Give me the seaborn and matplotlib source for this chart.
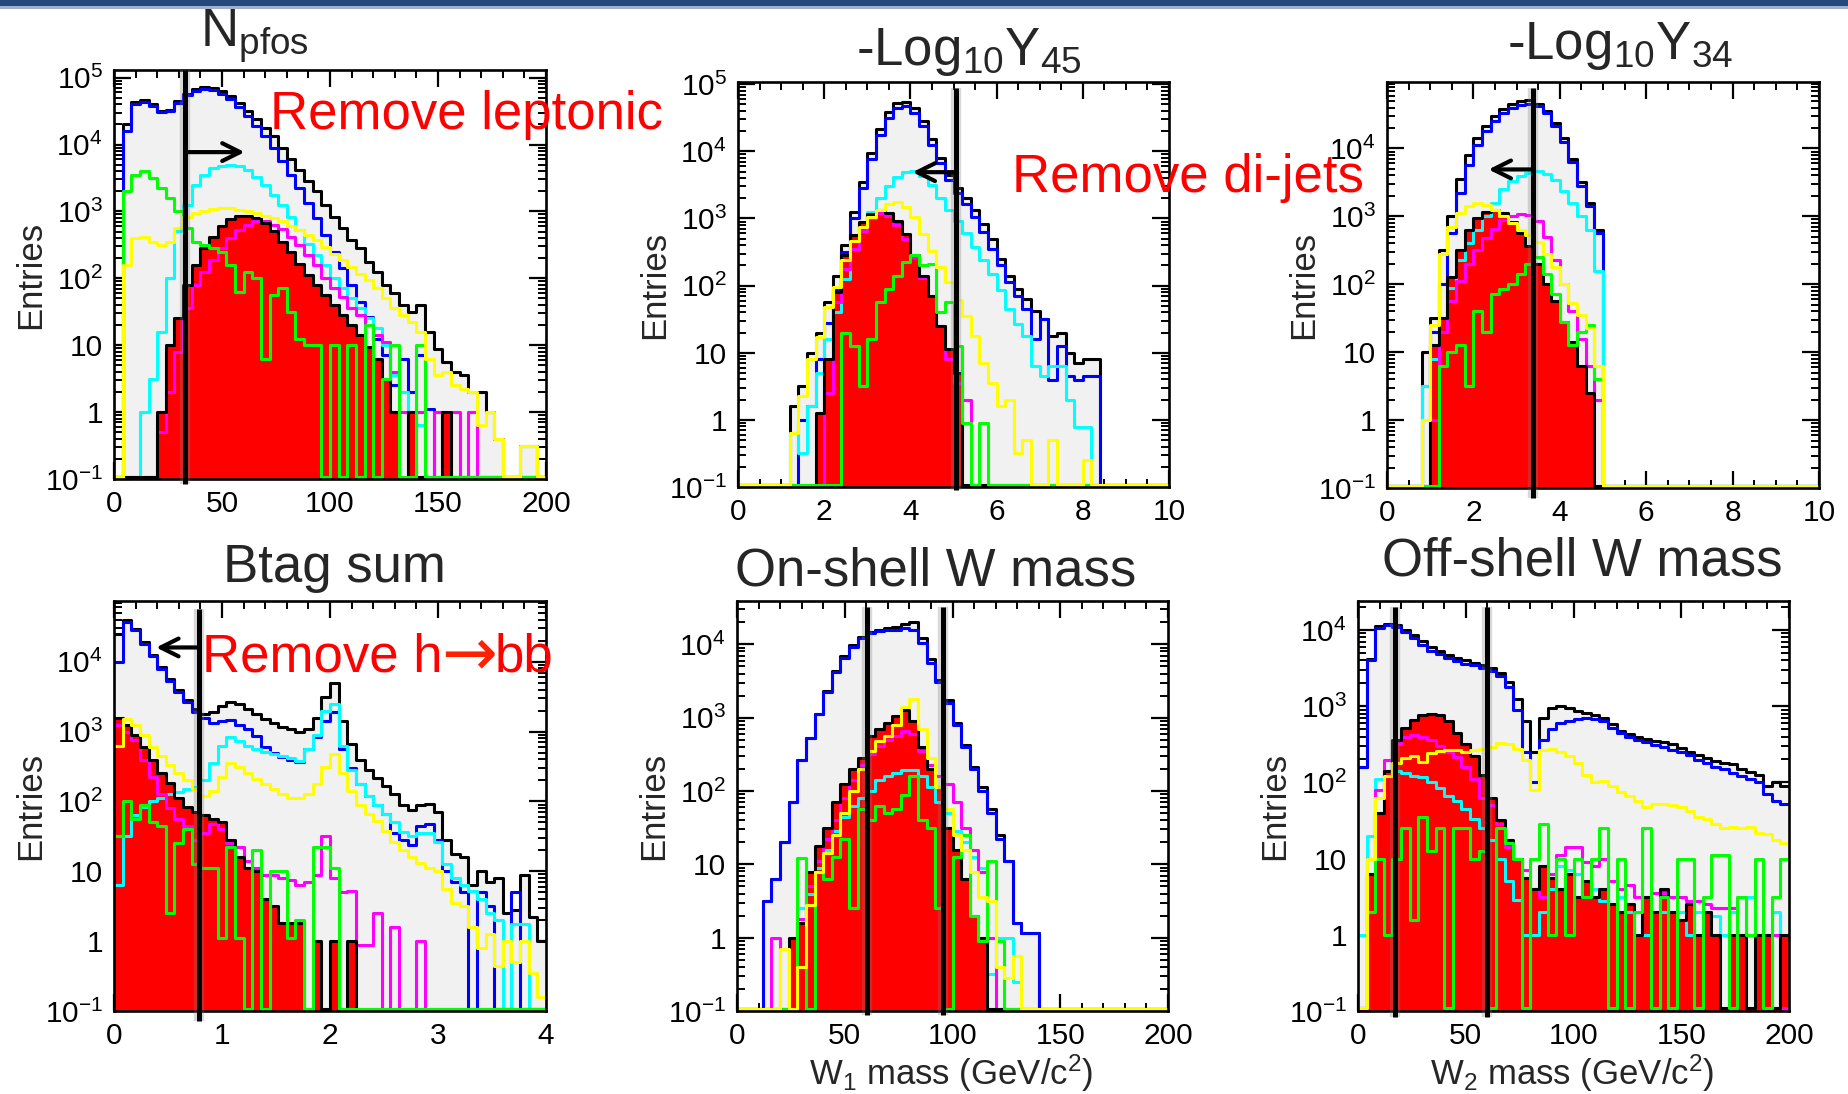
import numpy as np
import pandas as pd
import matplotlib
matplotlib.use("Agg")
import matplotlib.pyplot as plt
from matplotlib.ticker import LogLocator, MultipleLocator, FuncFormatter, NullFormatter
from matplotlib.patches import Rectangle
import seaborn as sns

# ---------------------------------------------------------------------------
# Histogram contents, stored as log10(entries) per bin; -1 marks an empty bin.
# Colours: black = sum of backgrounds, blue/cyan/yellow/magenta/green = single
# backgrounds, red (filled) = signal.
# ---------------------------------------------------------------------------

# N_pfos : 50 bins on [0, 200]
npfos_black = [-1, 4.3, 4.63, 4.66, 4.6, 4.5, 4.52, 4.65, 4.76, 4.83,
               4.86, 4.84, 4.8, 4.72, 4.62, 4.5, 4.38, 4.25, 4.12, 3.95,
               3.78, 3.62, 3.45, 3.3, 3.1, 2.92, 2.75, 2.58, 2.45, 2.25,
               2.1, 1.9, 1.78, 1.6, 1.5, 1.6, 1.2, 0.95, 0.75, 0.6,
               0.55, 0.3, 0.3, 0.0, -0.4, -1, -1, -0.5, -0.5, -1]
npfos_blue = [-1, 4.2, 4.6, 4.64, 4.58, 4.48, 4.5, 4.62, 4.74, 4.8,
              4.83, 4.81, 4.76, 4.68, 4.56, 4.42, 4.28, 4.12, 3.95, 3.75,
              3.55, 3.35, 3.12, 2.9, 2.65, 2.4, 2.15, 1.9, 1.65, 1.42,
              1.1, 0.85, 0.4, 0.8, 0.3, 0.85, 0.05, -1, -1, -1,
              -1, -1, -1, -1, -1, -1, -1, -1, -1, -1]
npfos_cyan = [-1, -1, -1, 0.0, 0.5, 1.2, 2.0, 2.7, 3.1, 3.4,
              3.55, 3.65, 3.68, 3.7, 3.68, 3.62, 3.52, 3.4, 3.25, 3.1,
              2.92, 2.72, 2.52, 2.35, 2.2, 2.0, 1.85, 1.7, 1.55, 1.4,
              1.25, 1.0, 0.55, 0.3, 0.0, -0.2, -1, -1, -1, -1,
              -1, -1, -1, -1, -1, -1, -1, -1, -1, -1]
npfos_yellow = [-1, 2.2, 2.6, 2.62, 2.55, 2.5, 2.55, 2.75, 2.92, 2.97,
                3.0, 3.03, 3.05, 3.05, 3.02, 3.0, 2.97, 2.93, 2.9, 2.85,
                2.78, 2.72, 2.65, 2.57, 2.47, 2.37, 2.27, 2.17, 2.07, 1.97,
                1.85, 1.7, 1.55, 1.45, 1.35, 1.2, 0.8, 0.55, 0.6, 0.4,
                0.35, 0.3, -0.2, 0.0, -0.4, -1, -1, -0.5, -0.5, -1]
npfos_magenta = [-1, -1, -1, -1, -1, -0.3, 0.3, 0.9, 1.55, 1.9,
                 2.1, 2.28, 2.45, 2.6, 2.72, 2.8, 2.85, 2.85, 2.8, 2.73,
                 2.62, 2.5, 2.35, 2.2, 2.0, 1.85, 1.72, 1.55, 1.45, 1.3,
                 1.15, 1.05, 0.6, 0.0, -1, 0.0, -1, 0.0, -1, 0.0,
                 -1, 0.0, -1, -1, -1, -1, -1, -1, -1, -1]
npfos_green = [-1, 3.3, 3.55, 3.6, 3.5, 3.35, 3.2, 3.0, 2.75, 2.55,
               2.5, 2.45, 2.4, 2.2, 1.8, 2.1, 2.0, 0.8, 1.75, 1.85,
               1.5, 1.1, 1.0, 1.0, -1, 1.0, -1, 1.0, -1, 1.3,
               -1, 0.5, 1.0, -1, -1, 1.0, -1, -1, -1, -1,
               -1, -1, -1, -1, -1, -1, -1, -1, -1, -1]
npfos_signal = [-1, -1, -1, -1, -1, 0.0, 1.0, 1.4, 1.9, 2.2,
                2.45, 2.62, 2.78, 2.88, 2.93, 2.93, 2.9, 2.82, 2.7, 2.55,
                2.4, 2.22, 2.05, 1.9, 1.75, 1.6, 1.45, 1.3, 1.15, 0.98,
                0.8, 0.5, 0.0, -1, 0.0, -1, -1, -1, 0.0, -1,
                -1, -1, -1, -1, -1, -1, -1, -1, -1, -1]

# -log10(y45) : 50 bins on [0, 10]
y45_black = [-1, -1, -1, -1, -1, -1, 0.2, 0.5, 1.0, 1.3,
             1.75, 2.15, 2.6, 3.1, 3.55, 3.98, 4.33, 4.58, 4.72, 4.74,
             4.64, 4.45, 4.18, 3.9, 3.65, 3.45, 3.3, 3.12, 2.92, 2.7,
             2.4, 2.15, 1.95, 1.8, 1.62, 1.5, 1.25, 1.3, 1.0, 0.85,
             0.9, 0.9, -1, -1, -1, -1, -1, -1, -1, -1]
y45_blue = [-1, -1, -1, -1, -1, -1, -1, 0.0, 0.2, 0.9,
            1.45, 1.95, 2.5, 3.0, 3.45, 3.88, 4.25, 4.5, 4.64, 4.67,
            4.57, 4.38, 4.1, 3.82, 3.58, 3.38, 3.22, 3.02, 2.8, 2.55,
            2.3, 2.05, 1.85, 1.65, 1.2, 1.5, 0.6, 1.1, 0.65, 0.6,
            0.65, 0.65, -1, -1, -1, -1, -1, -1, -1, -1]
y45_cyan = [-1, -1, -1, -1, -1, -1, -0.2, -0.5, 0.2, 0.7,
            1.2, 1.6, 2.1, 2.55, 2.95, 3.1, 3.3, 3.48, 3.62, 3.7,
            3.71, 3.64, 3.5, 3.3, 3.12, 2.97, 2.78, 2.57, 2.38, 2.18,
            1.93, 1.65, 1.43, 1.25, 0.8, 0.65, 0.8, 0.8, 0.3, -0.1,
            -0.1, -1, -1, -1, -1, -1, -1, -1, -1, -1]
y45_yellow = [-1, -1, -1, -1, -1, -1, -0.2, 0.35, 0.9, 1.24,
              1.68, 1.98, 2.38, 2.67, 2.87, 3.02, 3.12, 3.21, 3.24, 3.17,
              3.02, 2.77, 2.52, 2.28, 2.05, 1.78, 1.55, 1.25, 0.85, 0.55,
              0.2, 0.3, -0.5, -0.3, -1, -1, -0.3, -1, -1, -1,
              -0.6, -1, -1, -1, -1, -1, -1, -1, -1, -1]
y45_magenta = [-1, -1, -1, -1, -1, -1, -1, -1, -1, -1,
               0.4, 1.75, 2.25, 2.55, 2.82, 3.0, 3.08, 3.04, 2.9, 2.7,
               2.42, 2.12, 1.85, 1.4, 0.9, 0.55, 0.3, -1, -1, -1,
               -1, -1, -1, -1, -1, -1, -1, -1, -1, -1,
               -1, -1, -1, -1, -1, -1, -1, -1, -1, -1]
y45_green = [-1, -1, -1, -1, -1, -1, -1, -1, -1, -1,
             -1, -1, 1.3, 1.1, 0.5, 1.2, 1.75, 1.95, 2.15, 2.35,
             2.45, 2.3, 2.32, 1.6, 1.75, 1.1, -0.05, -1, -0.05, -1,
             -1, -1, -1, -1, -1, -1, -1, -1, -1, -1,
             -1, -1, -1, -1, -1, -1, -1, -1, -1, -1]
y45_signal = [-1, -1, -1, -1, -1, -1, -1, -1, -1, 0.1,
              0.9, 1.9, 2.45, 2.75, 2.95, 3.07, 3.12, 3.08, 2.97, 2.77,
              2.45, 2.15, 1.85, 1.4, 1.05, 0.7, -1, -1, -1, -1,
              -1, -1, -1, -1, -1, -1, -1, -1, -1, -1,
              -1, -1, -1, -1, -1, -1, -1, -1, -1, -1]

# -log10(y34) : 50 bins on [0, 10]
y34_black = [-1, -1, -1, -1, 1.0, 1.5, 2.5, 3.0, 3.55, 3.9,
             4.15, 4.33, 4.48, 4.58, 4.65, 4.7, 4.71, 4.66, 4.55, 4.38,
             4.15, 3.85, 3.5, 3.2, 2.8, -1, -1, -1, -1, -1,
             -1, -1, -1, -1, -1, -1, -1, -1, -1, -1,
             -1, -1, -1, -1, -1, -1, -1, -1, -1, -1]
y34_blue = [-1, -1, -1, -1, 0.5, 1.3, 2.0, 2.75, 3.35, 3.75,
            4.05, 4.25, 4.4, 4.52, 4.6, 4.64, 4.66, 4.62, 4.52, 4.33,
            4.1, 3.8, 3.45, 3.15, 2.75, -1, -1, -1, -1, -1,
            -1, -1, -1, -1, -1, -1, -1, -1, -1, -1,
            -1, -1, -1, -1, -1, -1, -1, -1, -1, -1]
y34_cyan = [-1, -1, -1, -1, 0.5, 0.9, 1.5, 1.95, 2.35, 2.6,
            2.8, 3.0, 3.2, 3.4, 3.52, 3.6, 3.64, 3.66, 3.63, 3.53,
            3.38, 3.2, 3.0, 2.8, 2.2, -1, -1, -1, -1, -1,
            -1, -1, -1, -1, -1, -1, -1, -1, -1, -1,
            -1, -1, -1, -1, -1, -1, -1, -1, -1, -1]
y34_yellow = [-1, -1, -1, -1, 0.0, 1.4, 2.45, 2.85, 3.05, 3.15,
              3.2, 3.17, 3.1, 3.0, 2.9, 2.8, 2.72, 2.62, 2.45, 2.25,
              2.0, 1.72, 1.55, 1.35, 0.8, -1, -1, -1, -1, -1,
              -1, -1, -1, -1, -1, -1, -1, -1, -1, -1,
              -1, -1, -1, -1, -1, -1, -1, -1, -1, -1]
y34_magenta = [-1, -1, -1, -1, -1, 0.0, 1.3, 1.75, 2.05, 2.3,
               2.5, 2.68, 2.82, 2.95, 3.0, 3.03, 3.02, 2.93, 2.7, 2.35,
               2.0, 1.6, 1.2, 0.8, 0.3, -1, -1, -1, -1, -1,
               -1, -1, -1, -1, -1, -1, -1, -1, -1, -1,
               -1, -1, -1, -1, -1, -1, -1, -1, -1, -1]
y34_green = [-1, -1, -1, -1, -1, -1, 0.8, 1.0, 1.1, 0.5,
             1.6, 1.3, 1.85, 1.93, 2.0, 2.15, 2.3, 2.4, 2.15, 1.85,
             1.45, 1.1, 1.3, 1.4, 0.6, -1, -1, -1, -1, -1,
             -1, -1, -1, -1, -1, -1, -1, -1, -1, -1,
             -1, -1, -1, -1, -1, -1, -1, -1, -1, -1]
y34_signal = [-1, -1, -1, -1, -1, 1.1, 1.5, 2.1, 2.5, 2.8,
              2.98, 3.07, 3.1, 3.05, 2.92, 2.76, 2.56, 2.3, 2.0, 1.75,
              1.45, 1.15, 0.8, 0.4, -1, -1, -1, -1, -1, -1,
              -1, -1, -1, -1, -1, -1, -1, -1, -1, -1,
              -1, -1, -1, -1, -1, -1, -1, -1, -1, -1]

# B-tag sum : 50 bins on [0, 4]
btag_black = [4.4, 4.6, 4.47, 4.28, 4.1, 3.93, 3.75, 3.6, 3.45, 3.32,
              3.25, 3.28, 3.36, 3.42, 3.4, 3.33, 3.25, 3.18, 3.12, 3.07,
              3.03, 3.0, 3.03, 3.2, 3.5, 3.7, 3.15, 2.82, 2.6, 2.45,
              2.33, 2.22, 2.1, 1.95, 1.88, 1.95, 1.97, 1.85, 1.45, 1.25,
              1.2, 0.8, 1.0, 0.85, 0.9, 0.4, 0.45, 0.95, 0.35, 0.0]
btag_blue = [4.0, 4.57, 4.45, 4.26, 4.08, 3.9, 3.72, 3.57, 3.42, 3.28,
             3.2, 3.12, 3.15, 3.16, 3.1, 3.03, 2.93, 2.78, 2.7, 2.64,
             2.6, 2.57, 2.75, 2.92, 3.15, 3.28, 2.75, 2.48, 2.25, 2.08,
             1.95, 1.82, 1.55, 1.45, 1.38, 1.65, 1.68, 1.45, 1.0, 0.85,
             0.7, -1, 0.7, 0.5, -1, -1, 0.7, -1, -1, -1]
btag_cyan = [0.8, 1.5, 1.8, 1.92, 2.0, 2.05, 2.1, 2.14, 2.18, 2.2,
             2.3, 2.55, 2.8, 2.92, 2.86, 2.8, 2.75, 2.71, 2.68, 2.65,
             2.62, 2.58, 2.75, 2.95, 3.3, 3.4, 2.8, 2.45, 2.25, 2.08,
             1.95, 1.82, 1.7, 1.56, 1.5, 1.55, 1.55, 1.42, 1.1, 0.9,
             0.8, 0.72, 0.6, 0.4, 0.3, -1, 0.25, 0.25, -1, -1]
btag_yellow = [2.8, 3.18, 3.1, 2.95, 2.78, 2.65, 2.52, 2.4, 2.3, 2.18,
               2.08, 2.15, 2.35, 2.55, 2.5, 2.4, 2.32, 2.25, 2.18, 2.1,
               2.05, 2.05, 2.1, 2.25, 2.5, 2.68, 2.4, 2.15, 1.95, 1.82,
               1.72, 1.58, 1.42, 1.3, 1.2, 1.12, 1.05, 1.0, 0.75, 0.55,
               0.5, 0.2, -0.1, 0.1, -0.35, 0.0, -0.3, 0.0, -0.45, -0.8]
btag_magenta = [3.1, 3.0, 2.88, 2.6, 2.35, 2.1, 1.9, 1.75, 1.65, 1.45,
                1.55, 1.68, 1.6, 1.4, 1.35, 1.15, 1.05, 0.95, 0.95, 0.9,
                0.88, 0.8, 0.85, 0.95, 1.5, 0.9, 0.7, 0.72, -0.05, -0.05,
                0.4, -1, 0.2, -1, -1, 0.0, -1, -1, -1, -1,
                -1, -1, -1, -1, -1, -1, -1, -1, -1, -1]
btag_green = [1.5, 2.0, 1.75, 1.95, 1.7, 1.65, 0.4, 1.4, 1.6, 1.1,
              1.05, 1.05, 0.05, 1.35, 0.05, -1, 1.3, -1, 1.0, 1.0,
              0.05, 0.3, -1, 1.35, 1.35, 1.05, -1, -1, -1, -1,
              -1, -1, -1, -1, -1, -1, -1, -1, -1, -1,
              -1, -1, -1, -1, -1, -1, -1, -1, -1, -1]
btag_signal = [3.2, 3.1, 2.95, 2.78, 2.6, 2.4, 2.27, 2.05, 1.92, 1.85,
               1.8, 1.75, 1.7, 1.45, 1.2, 1.05, 1.0, 0.6, 0.5, 0.26,
               0.26, 0.26, -1, 0.0, -1, 0.0, -1, 0.0, -1, -1,
               -1, -1, -1, -1, -1, -1, -1, -1, -1, -1,
               -1, -1, -1, -1, -1, -1, -1, -1, -1, -1]

# On-shell W mass : 50 bins on [0, 200] GeV
w1_black = [-1, -1, -1, 0.5, 0.8, 1.3, 1.85, 2.42, 2.72, 3.05,
            3.36, 3.63, 3.84, 3.99, 4.1, 4.17, 4.2, 4.22, 4.24, 4.28,
            4.3, 4.08, 3.8, 3.52, 3.24, 2.93, 2.63, 2.33, 2.05, 1.75,
            1.4, 1.05, 0.2, 0.07, 0.07, -1, -1, -1, -1, -1,
            -1, -1, -1, -1, -1, -1, -1, -1, -1, -1]
w1_blue = [-1, -1, -1, 0.5, 0.8, 1.3, 1.85, 2.42, 2.72, 3.05,
           3.35, 3.62, 3.82, 3.97, 4.08, 4.15, 4.18, 4.2, 4.2, 4.22,
           4.2, 4.02, 3.75, 3.48, 3.2, 2.9, 2.6, 2.3, 2.0, 1.7,
           1.35, 1.05, 0.2, 0.07, 0.07, -1, -1, -1, -1, -1,
           -1, -1, -1, -1, -1, -1, -1, -1, -1, -1]
w1_cyan = [-1, -1, -1, -1, -1, -1, -1, 0.4, 0.6, 0.95,
           1.2, 1.45, 1.65, 1.8, 1.9, 2.0, 2.15, 2.2, 2.25, 2.28,
           2.28, 2.2, 2.05, 1.85, 1.7, 1.45, 1.3, 1.1, 0.95, -0.5,
           0.0, 0.0, -0.6, -1, -1, -1, -1, -1, -1, -1,
           -1, -1, -1, -1, -1, -1, -1, -1, -1, -1]
w1_yellow = [-1, -1, -1, -1, -1, -0.15, -1, -0.4, 0.45, 0.9,
             1.15, 1.4, 1.7, 2.0, 2.3, 2.55, 2.68, 2.75, 2.9, 3.15,
             3.25, 2.85, 2.45, 2.05, 1.75, 1.4, 1.2, 0.9, 0.55, 0.5,
             -0.4, -0.55, -0.25, -1, -1, -1, -1, -1, -1, -1,
             -1, -1, -1, -1, -1, -1, -1, -1, -1, -1]
w1_magenta = [-1, -1, -1, -1, 0.0, -1, -1, 0.25, 0.7, 1.05,
              1.35, 1.6, 1.9, 2.15, 2.35, 2.5, 2.62, 2.7, 2.75, 2.82,
              2.78, 2.55, 2.35, 2.2, 2.1, 1.85, 1.5, 1.2, 0.9, 0.0,
              -1, -1, -1, -1, -1, -1, -1, -1, -1, -1,
              -1, -1, -1, -1, -1, -1, -1, -1, -1, -1]
w1_green = [-1, -1, -1, -1, -1, -1, -1, 1.08, -1, 0.9,
            0.8, 1.1, 1.35, 0.4, 1.75, 1.6, 1.8, 1.7, 1.75, 1.95,
            2.2, 1.6, 1.5, 0.4, -1, 1.1, 1.4, 0.3, -0.05, 1.05,
            -0.05, -1, -1, -1, -1, -1, -1, -1, -1, -1,
            -1, -1, -1, -1, -1, -1, -1, -1, -1, -1]
w1_signal = [-1, -1, -1, -1, -1, -1, 0.0, 0.2, 0.9, 1.25,
             1.5, 1.85, 2.1, 2.3, 2.45, 2.75, 2.85, 2.93, 3.02, 3.1,
             2.95, 2.6, 2.3, 2.05, 1.5, 1.2, 0.8, 0.3, 0.0, -1,
             -1, -1, -1, -1, -1, -1, -1, -1, -1, -1,
             -1, -1, -1, -1, -1, -1, -1, -1, -1, -1]

# Off-shell W mass : 50 bins on [0, 200] GeV
w2_black = [2.2, 3.62, 4.05, 4.08, 4.06, 4.0, 3.93, 3.85, 3.78, 3.72,
            3.67, 3.63, 3.6, 3.57, 3.54, 3.5, 3.43, 3.32, 3.1, 2.8,
            2.4, 2.85, 2.97, 3.0, 2.97, 2.94, 2.91, 2.88, 2.84, 2.76,
            2.68, 2.64, 2.6, 2.57, 2.54, 2.53, 2.5, 2.45, 2.4, 2.36,
            2.32, 2.28, 2.25, 2.24, 2.18, 2.13, 2.1, 1.95, 2.0, 1.95]
w2_blue = [2.2, 3.6, 4.03, 4.07, 4.04, 3.97, 3.89, 3.8, 3.73, 3.68,
           3.63, 3.59, 3.56, 3.54, 3.5, 3.46, 3.4, 3.25, 2.95, 2.4,
           2.0, 2.55, 2.7, 2.78, 2.8, 2.83, 2.85, 2.83, 2.8, 2.72,
           2.65, 2.6, 2.56, 2.53, 2.49, 2.46, 2.43, 2.4, 2.36, 2.3,
           2.25, 2.2, 2.17, 2.12, 2.08, 2.05, 2.0, 1.85, 1.75, 1.72]
w2_cyan = [0.0, 1.3, 2.05, 2.15, 2.15, 2.12, 2.08, 2.07, 2.0, 1.92,
           1.82, 1.75, 1.65, 1.52, 1.4, 1.25, 1.0, 0.7, 0.46, 0.0,
           0.0, 0.3, 0.6, 0.9, 0.85, 0.8, 0.95, 0.6, 0.45, 0.7,
           0.5, 0.3, 0.3, 0.0, 0.3, 0.3, 0.3, 0.3, 0.0, 0.3,
           0.3, 0.25, 0.0, 0.3, 0.0, 0.5, 0.0, 0.0, 0.3, 0.0]
w2_yellow = [-1, 1.0, 1.8, 2.08, 2.25, 2.32, 2.35, 2.27, 2.38, 2.41,
             2.43, 2.42, 2.4, 2.42, 2.44, 2.46, 2.52, 2.5, 2.44, 2.3,
             1.9, 2.42, 2.44, 2.4, 2.35, 2.25, 2.1, 2.0, 2.02, 1.95,
             1.88, 1.82, 1.76, 1.68, 1.72, 1.72, 1.7, 1.68, 1.62, 1.55,
             1.52, 1.45, 1.4, 1.42, 1.4, 1.42, 1.33, 1.32, 1.25, 1.2]
w2_magenta = [-1, 1.0, 1.9, 2.3, 2.5, 2.6, 2.62, 2.6, 2.56, 2.48,
              2.4, 2.33, 2.2, 2.05, 1.8, 1.7, 1.45, 1.15, 1.0, 0.85,
              0.6, 0.5, 0.8, 1.05, 1.15, 1.15, 0.95, 0.9, 1.0, 0.7,
              0.6, 0.65, 0.5, 0.5, 0.55, 0.55, 0.5, 0.5, 0.45, 0.45,
              0.4, 0.35, 0.35, 0.35, 0.0, 0.0, 0.0, 0.0, 0.0, -1]
w2_green = [-1, 0.3, 1.0, 0.0, 1.0, 1.4, 0.2, 1.55, 1.1, 1.4,
            -1, 1.4, 1.4, 1.0, 1.1, -1, 1.4, 1.2, 1.0, -1,
            1.0, 1.45, 0.0, 1.0, 0.0, 1.0, 0.5, 1.0, 1.4, -1,
            1.0, -1, 0.3, 1.4, -1, 0.5, -1, 1.0, 1.0, -1,
            0.5, 1.05, 1.05, -1, 0.5, 0.0, 1.0, -1, 0.5, 1.0]
w2_signal = [-1, 0.8, 1.6, 2.15, 2.55, 2.72, 2.82, 2.88, 2.9, 2.88,
             2.8, 2.65, 2.5, 2.35, 2.1, 1.8, 1.5, 1.25, 1.0, 0.75,
             0.6, 0.9, 0.75, 0.6, 0.8, 0.5, 0.7, 0.5, 0.6, 0.4,
             0.3, 0.4, 0.0, 0.5, 0.3, 0.6, 0.3, 0.2, 0.4, 0.0,
             0.3, 0.0, -1, 0.0, 0.0, -1, 0.0, 0.0, -1, 0.0]

# ---------------------------------------------------------------------------
W, H = 1848, 1094
FLOOR = 0.108          # empty bins sit on the lower edge of the log axis
LW = 2.2
COL = dict(total="#000000", blue="#0000ff", cyan="#00ffff", yellow="#ffff00",
           magenta="#ff00ff", green="#00ff00", signal="#ff0000")
FILL_GREY = "#f1f1f1"

sns.set_style("ticks")
plt.rcParams.update({
    "font.family": ["Liberation Sans", "DejaVu Sans"],
    "mathtext.fontset": "custom",
    "mathtext.rm": "Liberation Sans",
    "mathtext.it": "Liberation Sans:italic",
    "mathtext.bf": "Liberation Sans:bold",
    "mathtext.default": "regular",
    "axes.linewidth": 1.9,
    "axes.edgecolor": "black",
    "axes.facecolor": "white",
    "axes.grid": False,
    "xtick.direction": "in", "ytick.direction": "in",
    "xtick.top": True, "ytick.right": True,
    "xtick.color": "black", "ytick.color": "black",
})

fig = plt.figure(figsize=(W / 100, H / 100), dpi=100)

# slide header strip
fig.add_artist(Rectangle((0, 1 - 6 / H), 1, 6 / H, transform=fig.transFigure,
                         color="#27487a", lw=0))
fig.add_artist(Rectangle((0, 1 - 9 / H), 1, 3 / H, transform=fig.transFigure,
                         color="#9fb1cc", lw=0))


def counts(logs):
    a = np.asarray(logs, dtype=float)
    return np.where(a <= -1, FLOOR, 10.0 ** a)


def hist(ax, edges, logs, color, fill=False, z=3, lw=LW):
    centers = 0.5 * (edges[1:] + edges[:-1])
    df = pd.DataFrame({"x": centers, "w": counts(logs)})
    bins = [float(e) for e in edges]
    if fill:
        sns.histplot(data=df, x="x", weights="w", bins=bins, element="step",
                     fill=True, color=color, alpha=1, linewidth=0, ax=ax, zorder=z)
    else:
        sns.histplot(data=df, x="x", weights="w", bins=bins, element="step",
                     fill=False, color=color, linewidth=lw, ax=ax, zorder=z)


def decade_label(v, pos):
    e = int(round(np.log10(v)))
    if e == 0:
        return "1"
    if e == 1:
        return "10"
    return r"$10^{%d}$" % e


def axes_px(l, t, r, b):
    return fig.add_axes([l / W, 1 - b / H, (r - l) / W, (b - t) / H])


panels = [
    dict(box=(114, 70, 546, 479), rng=(0, 200), top=1.3e5, major=50, minor=10,
         data=(npfos_black, npfos_blue, npfos_cyan, npfos_magenta, npfos_green,
               npfos_yellow, npfos_signal),
         cuts=[(33, 1.0, -0.012)], arrow=(33, 60.5, 7.7e3)),
    dict(box=(738, 82, 1169, 487), rng=(0, 10), top=1.08e5, major=2, minor=0.5,
         data=(y45_black, y45_blue, y45_cyan, y45_magenta, y45_green,
               y45_yellow, y45_signal),
         cuts=[(5.05, 0.985, -0.008)], arrow=(5.05, 4.05, 4.9e3)),
    dict(box=(1387, 82, 1819, 488), rng=(0, 10), top=9.5e4, major=2, minor=0.5,
         data=(y34_black, y34_blue, y34_cyan, y34_magenta, y34_green,
               y34_yellow, y34_signal),
         cuts=[(3.37, 0.985, -0.025)], arrow=(3.37, 2.35, 4.9e3)),
    dict(box=(114, 601, 546, 1011), rng=(0, 4), top=7.4e4, major=1, minor=0.2,
         data=(btag_black, btag_blue, btag_cyan, btag_magenta, btag_green,
               btag_yellow, btag_signal),
         cuts=[(0.79, 0.98, -0.025)], arrow=(0.79, 0.39, 1.6e4)),
    dict(box=(737, 601, 1168, 1011), rng=(0, 200), top=3.9e4, major=50, minor=10,
         data=(w1_black, w1_blue, w1_cyan, w1_magenta, w1_green,
               w1_yellow, w1_signal),
         cuts=[(60.5, 0.985, -0.01), (95.5, 0.985, -0.01)], arrow=None,
         xlabel=r"W$_1$ mass (GeV/c$^2$)"),
    dict(box=(1358, 601, 1789, 1011), rng=(0, 200), top=2.4e4, major=50, minor=10,
         data=(w2_black, w2_blue, w2_cyan, w2_magenta, w2_green,
               w2_yellow, w2_signal),
         cuts=[(17.4, 0.985, -0.014), (59.7, 0.985, -0.014)], arrow=None,
         xlabel=r"W$_2$ mass (GeV/c$^2$)"),
]

for p in panels:
    ax = axes_px(*p["box"])
    lo, hi = p["rng"]
    edges = np.linspace(lo, hi, 51)
    total, blue, cyan, magenta, green, yellow, signal = p["data"]

    hist(ax, edges, total, FILL_GREY, fill=True, z=1)
    hist(ax, edges, signal, COL["signal"], fill=True, z=2)
    hist(ax, edges, total, COL["total"], z=3)
    hist(ax, edges, blue, COL["blue"], z=4)
    hist(ax, edges, cyan, COL["cyan"], z=5)
    hist(ax, edges, magenta, COL["magenta"], z=6)
    hist(ax, edges, signal, COL["total"], z=7)
    hist(ax, edges, green, COL["green"], z=8)
    hist(ax, edges, yellow, COL["yellow"], z=9)

    ax.set_yscale("log")
    ax.set_xlim(lo, hi)
    ax.set_ylim(0.1, p["top"])

    ax.xaxis.set_major_locator(MultipleLocator(p["major"]))
    ax.xaxis.set_minor_locator(MultipleLocator(p["minor"]))
    ax.xaxis.set_major_formatter(FuncFormatter(lambda v, pos: "%g" % v))
    ax.yaxis.set_major_locator(LogLocator(base=10, numticks=20))
    ax.yaxis.set_minor_locator(LogLocator(base=10, subs=np.arange(2, 10), numticks=20))
    ax.yaxis.set_major_formatter(FuncFormatter(decade_label))
    ax.yaxis.set_minor_formatter(NullFormatter())
    ax.tick_params(which="major", length=12, width=1.6, labelsize=21.5, pad=8,
                   top=True, right=True)
    ax.tick_params(which="minor", length=6, width=1.4, top=True, right=True)
    for s in ax.spines.values():
        s.set_linewidth(1.9)
        s.set_zorder(20)

    ax.set_ylabel("Entries", fontsize=25)
    ax.yaxis.set_label_coords(-0.155, 0.5)
    if "xlabel" in p:
        ax.set_xlabel(p["xlabel"], fontsize=25)
        ax.xaxis.set_label_coords(0.497, -0.1)
    else:
        ax.set_xlabel("")

    # selection cuts
    tr = ax.get_xaxis_transform()
    for xc, y0, y1 in p["cuts"]:
        ax.plot([xc, xc], [y0, y1], transform=tr, color="#808080", lw=7.5,
                alpha=0.3, clip_on=False, zorder=24, solid_capstyle="butt")
        ax.plot([xc, xc], [y0, y1], transform=tr, color="black", lw=3.6,
                clip_on=False, zorder=25, solid_capstyle="butt")
    if p["arrow"] is not None:
        x0, x1, ya = p["arrow"]
        ax.annotate("", xy=(x1, ya), xytext=(x0, ya),
                    arrowprops=dict(arrowstyle="->", lw=3, color="black",
                                    mutation_scale=32, shrinkA=0, shrinkB=0),
                    zorder=26)


def fig_text(x, y, s, **kw):
    return fig.text(x / W, 1 - y / H, s, ha="left", va="baseline", **kw)


# panel titles
fig_text(200, 47, r"N$_{pfos}$", fontsize=38)
fig_text(856, 65, r"-Log$_{10}$Y$_{45}$", fontsize=38)
fig_text(1507, 59, r"-Log$_{10}$Y$_{34}$", fontsize=38)
fig_text(223, 582, "Btag sum", fontsize=38)
fig_text(735, 585, "On-shell W mass", fontsize=38)
fig_text(1382, 575, "Off-shell W mass", fontsize=38)

# cut annotations
fig_text(270, 129, "Remove leptonic", fontsize=38, color="#ff0000")
fig_text(1012, 192, "Remove di-jets", fontsize=38, color="#ff0000")

# "Remove h->bb": the arrow glyph is set larger so it spans the x-height
renderer = fig.canvas.get_renderer()
t1 = fig_text(202, 671, "Remove h", fontsize=38, color="#ff0000")
e1 = t1.get_window_extent(renderer)
t2 = fig.text((e1.x1 - 1) / W, 1 - 674 / H, "\u2192", ha="left", va="baseline",
              fontsize=48, color="#ff2200", family="DejaVu Sans")
e2 = t2.get_window_extent(renderer)
fig.text((e2.x1 - 3) / W, 1 - 671 / H, "bb", ha="left", va="baseline",
         fontsize=38, color="#ff0000")

fig.savefig("out.png", dpi=100)
